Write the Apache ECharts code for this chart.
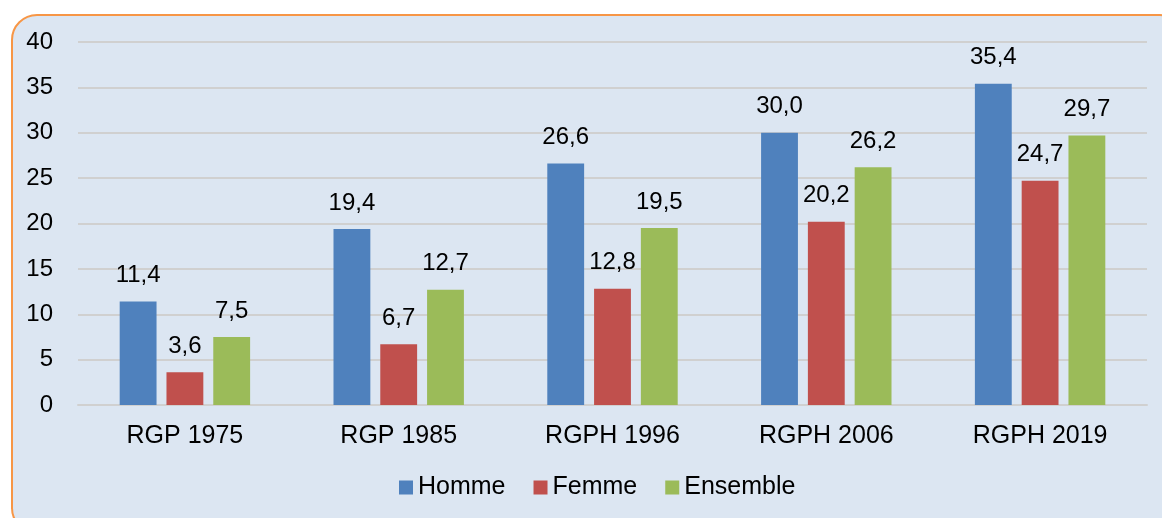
<!DOCTYPE html>
<html>
<head>
<meta charset="utf-8">
<script src="https://cdn.jsdelivr.net/npm/echarts@6/dist/echarts.min.js"></script>
<style>
  html, body { margin: 0; padding: 0; background: #fff; overflow: hidden; }
  #frame {
    position: absolute; left: 11px; top: 14px; width: 1175px; height: 520px;
    background: #dce6f2; border: 2px solid #f79646; border-radius: 26px; box-sizing: border-box;
  }
  #chart { position: absolute; left: 0; top: 0; width: 1162px; height: 518px; }
</style>
</head>
<body>
<div id="frame"></div>
<div id="chart"></div>
<script>
var categories = ['RGP 1975', 'RGP 1985', 'RGPH 1996', 'RGPH 2006', 'RGPH 2019']
var homme = [11.4, 19.4, 26.6, 30.0, 35.4]
var femme = [3.6, 6.7, 12.8, 20.2, 24.7]
var ensemble = [7.5, 12.7, 19.5, 26.2, 29.7]

var chart = echarts.init(document.getElementById('chart'))

function fmt (p) {
  return p.value.toFixed(1).replace('.', ',')
}

function bar (name, data, color) {
  return {
    name: name,
    type: 'bar',
    data: data,
    barGap: '27%',
    barCategoryGap: '39%',
    itemStyle: { color: color },
    label: {
      show: true,
      position: 'top',
      distance: 14,
      formatter: fmt,
      color: '#000',
      fontSize: 24,
      fontFamily: 'Liberation Sans'
    }
  }
}

var option = {
  animation: false,
  backgroundColor: 'transparent',
  textStyle: { fontFamily: 'Liberation Sans' },
  grid: { left: 78, right: 15, top: 42, bottom: 113 },
  legend: {
    bottom: 13,
    left: 394,
    itemWidth: 14,
    itemHeight: 14,
    itemGap: 28,
    icon: 'rect',
    textStyle: { fontSize: 25, color: '#000', fontFamily: 'Liberation Sans' },
    data: ['Homme', 'Femme', 'Ensemble']
  },
  xAxis: {
    type: 'category',
    data: categories,
    axisTick: { show: false },
    axisLine: { lineStyle: { color: '#d0d0d0', width: 2 } },
    axisLabel: { color: '#000', fontSize: 25, margin: 19 }
  },
  yAxis: {
    type: 'value',
    min: 0,
    max: 40,
    interval: 5,
    axisLabel: { color: '#000', fontSize: 24, margin: 25 },
    splitLine: { lineStyle: { color: '#d0d0d0', width: 2 } },
    axisLine: { show: false },
    axisTick: { show: false }
  },
  series: [
    bar('Homme', homme, '#4f81bd'),
    bar('Femme', femme, '#c0504d'),
    bar('Ensemble', ensemble, '#9bbb59')
  ]
}
chart.setOption(option)
</script>
</body>
</html>
